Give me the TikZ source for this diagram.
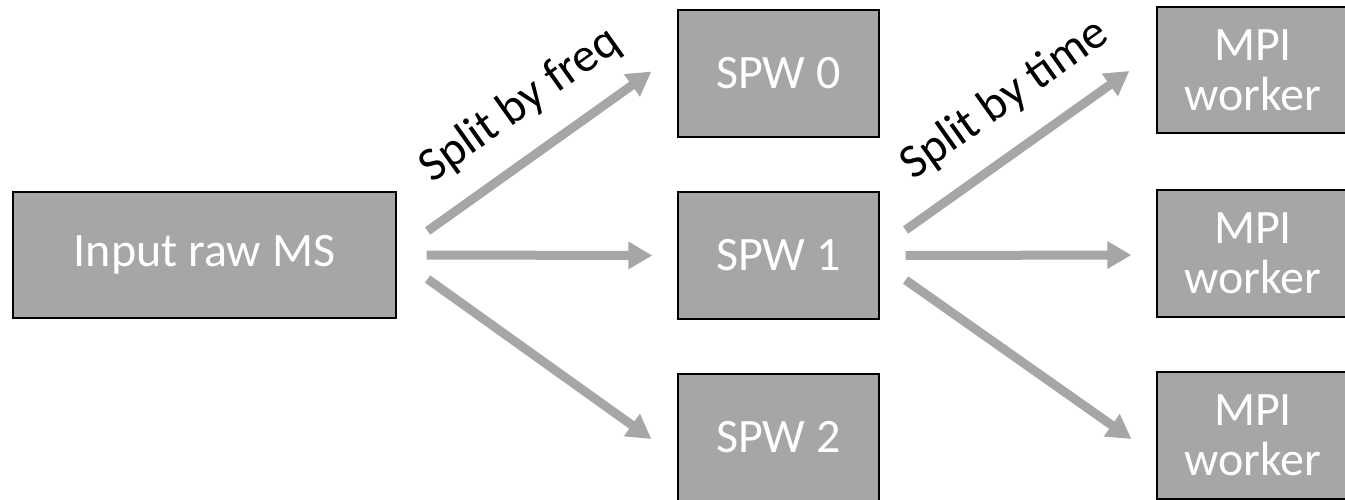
\documentclass[tikz,border=0pt]{standalone}
\usepackage{fontspec}
\setmainfont{Carlito}
\usetikzlibrary{arrows.meta}
\definecolor{boxgray}{HTML}{A6A6A6}
\tikzset{
  block/.style={draw=black, line width=1.2pt, fill=boxgray, text=white,
    rectangle, inner sep=0pt, align=center,
    font=\fontsize{48}{50}\selectfont},
  flow/.style={draw=boxgray, line width=9pt,
    -{Triangle[length=24pt,width=26pt]}},
  tag/.style={sloped, above, inner sep=24pt, text=black,
    font=\fontsize{48}{50}\selectfont}
}
\begin{document}
\begin{tikzpicture}[x=1pt,y=-1pt]
\useasboundingbox (0,0) rectangle (1345,499);

% Input data set
\node[block, minimum width=383pt, minimum height=126pt] (in) at (204.5,255) {Input raw MS};

% Spectral windows
\node[block, minimum width=201pt, minimum height=127pt] (spw0) at (778.5,73.5)  {SPW 0};
\node[block, minimum width=201pt, minimum height=127pt] (spw1) at (778.5,255.5) {SPW 1};
\node[block, minimum width=201pt, minimum height=127pt] (spw2) at (778.5,437.5) {SPW 2};

% MPI workers
\node[block, minimum width=192pt, minimum height=126pt] (mpi0) at (1253,70)    {MPI\\worker};
\node[block, minimum width=192pt, minimum height=127pt] (mpi1) at (1253,253.5) {MPI\\worker};
\node[block, minimum width=192pt, minimum height=127pt] (mpi2) at (1253,435.5) {MPI\\worker};

% Split by frequency
\draw[flow] ([xshift=31pt,yshift=24pt]in.east)
  -- node[tag, pos=0.54] {Split by freq} ([xshift=-26pt,yshift=2pt]spw0.west);
\draw[flow] ([xshift=30pt]in.east) -- ([xshift=-25pt]spw1.west);
\draw[flow] ([xshift=31pt,yshift=-24pt]in.east) -- ([xshift=-26pt,yshift=-1.5pt]spw2.west);

% Split by time
\draw[flow] ([xshift=26pt,yshift=25.5pt]spw1.east)
  -- node[tag, pos=0.57] {Split by time} ([xshift=-27pt,yshift=-1pt]mpi0.west);
\draw[flow] ([xshift=26pt]spw1.east) -- ([xshift=-25pt,yshift=-1.5pt]mpi1.west);
\draw[flow] ([xshift=26pt,yshift=-24.5pt]spw1.east) -- ([xshift=-25pt,yshift=-3.5pt]mpi2.west);

\end{tikzpicture}
\end{document}
